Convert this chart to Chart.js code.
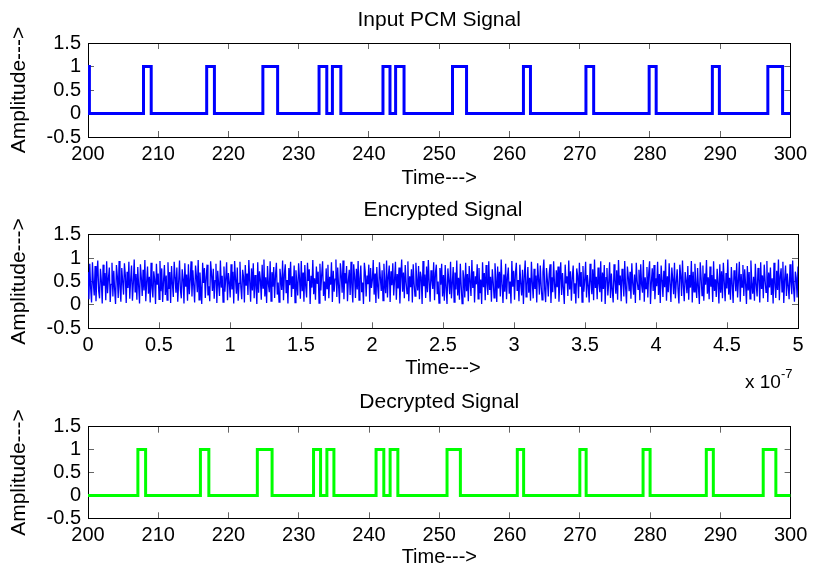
<!DOCTYPE html>
<html>
<head>
<meta charset="utf-8">
<script src="https://cdn.jsdelivr.net/npm/chart.js@4.4.0/dist/chart.umd.min.js"></script>
<style>
  body { margin: 0; background: #fff; }
  #wrap { position: relative; width: 818px; height: 570px; overflow: hidden; }
  canvas { position: absolute; left: 0; }
  #exp { position: absolute; left: 745px; top: 369px; font: 19px "Liberation Sans", Arial, sans-serif; color: #000; white-space: nowrap; }
  #exp sup { font-size: 13px; position: relative; top: -3px; }
</style>
</head>
<body>
<div id="wrap">
  <canvas id="input-chart" width="818" height="190" style="top:0px"></canvas>
  <canvas id="encrypted-chart" width="818" height="192" style="top:190px"></canvas>
  <canvas id="decrypted-chart" width="818" height="188" style="top:382px"></canvas>
  <div id="exp">x 10<sup>-7</sup></div>
</div>
<script>
// tick labels
const pcmTicks = [200, 210, 220, 230, 240, 250, 260, 270, 280, 290, 300];
const encTicks = [0, 0.5, 1, 1.5, 2, 2.5, 3, 3.5, 4, 4.5, 5];
const ampTicks = [-0.5, 0, 0.5, 1, 1.5];

// input PCM pulses (rise / fall times)
const inputRise = [200, 207.9, 216.9, 224.9, 232.9, 234.8, 242.0, 243.8, 251.9, 262.0, 270.9, 279.9, 288.9, 296.8];
const inputFall = [200.2, 209.0, 218.0, 227.0, 234.0, 236.0, 243.0, 245.0, 253.9, 263.0, 272.0, 280.9, 289.9, 298.9];

// decrypted pulses
const outRise = [207.1, 216.0, 224.1, 232.1, 234.0, 241.0, 243.0, 251.1, 261.1, 270.0, 279.0, 288.0, 296.1];
const outFall = [208.2, 217.2, 226.2, 233.1, 235.0, 242.1, 244.1, 253.0, 262.0, 270.9, 280.0, 289.0, 297.9];

// encrypted signal samples over 0 .. 5 x 10^-7 s
const encryptedValues = [
  .70,.12,.88,.35,.05,.91,.47,.20,.83,.08,.62,.95,.30,.14,.77,.52,.03,.86,.41,.68,
  .10,.93,.25,.57,.80,.06,.44,.90,.18,.73,.33,.02,.85,.61,.15,.94,.38,.07,.79,.50,
  .22,.89,.64,.04,.71,.36,.92,.13,.55,.84,.09,.46,.97,.28,.66,.11,.81,.40,.03,.87,
  .58,.19,.75,.31,.96,.08,.49,.82,.24,.60,.05,.90,.37,.16,.72,.54,.02,.88,.43,.67,
  .12,.94,.29,.78,.06,.51,.85,.21,.63,.10,.91,.34,.70,.04,.83,.45,.17,.92,.59,.26,
  .80,.07,.48,.95,.32,.14,.76,.56,.03,.89,.39,.65,.09,.87,.23,.53,.93,.18,.74,.42,
  .05,.84,.61,.27,.96,.11,.69,.35,.02,.90,.47,.79,.15,.58,.86,.20,.40,.08,.93,.66,
  .30,.77,.13,.52,.88,.04,.73,.44,.19,.95,.37,.62,.06,.82,.28,.57,.91,.10,.68,.49,
  .16,.87,.33,.71,.03,.94,.55,.24,.80,.09,.46,.92,.38,.12,.75,.60,.05,.85,.41,.67,
  .21,.96,.50,.07,.78,.31,.89,.14,.64,.43,.02,.91,.26,.72,.54,.11,.86,.36,.97,.18,
  .59,.04,.83,.45,.27,.93,.08,.70,.39,.81,.15,.63,.90,.22,.48,.06,.77,.56,.32,.95,
  .10,.66,.87,.25,.53,.03,.79,.42,.92,.17,.61,.34,.84,.05,.74,.47,.20,.89,.58,.13,
  .94,.29,.69,.07,.85,.40,.16,.90,.51,.76,.02,.62,.37,.96,.23,.57,.11,.82,.45,.71,
  .04,.88,.31,.65,.93,.19,.50,.09,.78,.35,.86,.14,.60,.43,.91,.06,.73,.28,.55,.97,
  .17,.80,.41,.03,.89,.64,.26,.95,.12,.68,.46,.83,.08,.52,.75,.21,.92,.38,.05,.87,
  .60,.15,.77,.33,.94,.10,.56,.84,.27,.48,.02,.90,.70,.18,.63,.44,.86,.07,.79,.36,
  .53,.96,.22,.67,.04,.81,.39,.13,.91,.58,.30,.74,.09,.88,.47,.25,.95,.16,.62,.84,
  .06,.72,.42,.89,.20,.54,.92,.11,.66,.35,.80,.03,.57,.97,.28,.69,.14,.85,.49,.24,
  .93,.08,.61,.38,.76,.05,.87,.45,.19,.90,.52,.31,.83,.12,.71,.59,.02,.94,.40,.65,
  .15,.82,.27,.96,.48,.07,.74,.55,.34,.91,.10,.68,.86,.23,.50,.04,.79,.43,.88,.18,
  .64,.09,.85,.37,.02,.78,.52,.23,.92,.14,.47,.81,.06,.69,.33,.95,.20,.58,.11,.88,
  .41,.03,.74,.57,.16,.90,.29,.66,.08,.83,.50,.19,.96,.36,.72,.05,.61,.44,.87,.13,
  .79,.25,.54,.02,.91,.38,.68,.10,.85,.46,.21,.93,.32,.60,.07,.76,.49,.15,.89,.55,
  .06,.82,.35,.71,.18,.97,.43,.04,.65,.28,.88,.12,.59,.80,.24,.50,.03,.94,.39,.73,
  .11,.67,.90,.30,.53,.08,.86,.45,.20,.75,.02,.62,.95,.17,.42,.81,.26,.58,.09,.92,
  .48,.14,.77,.34,.63,.05,.89,.56,.22,.84,.40,.11,.70,.97,.31,.06,.79,.52,.18,.66,
  .87,.04,.59,.27,.93,.44,.13,.74,.38,.82,.07,.55,.91,.21,.68,.35,.02,.86,.47,.61,
  .19,.95,.33,.72,.09,.57,.84,.25,.46,.03,.78,.62,.14,.90,.39,.70,.06,.83,.28,.54,
  .92,.16,.64,.41,.05,.88,.51,.23,.76,.10,.97,.36,.60,.12,.80,.45,.27,.93,.07,.69,
  .34,.85,.02,.58,.79,.20,.48,.91,.15,.67,.31,.05,.87,.53,.24,.74,.11,.96,.42,.63,
  .08,.77,.56,.18,.94,.37,.03,.82,.60,.29,.71,.13,.89,.46,.22,.65,.04,.90,.51,.33,
  .75,.10,.87,.43,.26,.96,.07,.59,.35,.81,.16,.68,.93,.02,.49,.78,.30,.85,.12,.57,
  .40,.92,.21,.66,.04,.84,.53,.17,.73,.38,.97,.09,.61,.27,.89,.44,.06,.80,.55,.23,
  .90,.14,.48,.76,.32,.03,.86,.62,.19,.95,.41,.08,.70,.52,.25,.83,.11,.64,.37,.94,
  .05,.71,.28,.88,.45,.15,.79,.36,.02,.91,.57,.20,.84,.09,.67,.43,.96,.24,.59,.12,
  .82,.39,.64,.06,.93,.30,.55,.17,.77,.47,.03,.87,.26,.72,.14,.90,.50,.08,.68,.35,
  .97,.22,.58,.11,.81,.44,.04,.74,.62,.29,.89,.16,.53,.92,.07,.66,.38,.85,.19,.76,
  .45,.02,.83,.31,.70,.13,.95,.48,.24,.60,.09,.88,.42,.18,.79,.56,.05,.91,.34,.63,
  .14,.86,.52,.27,.94,.06,.69,.37,.80,.21,.57,.03,.90,.46,.15,.73,.32,.97,.10,.61,
  .78,.28,.92,.04,.55,.84,.19,.67,.40,.12,.87,.49,.23,.95,.36,.07,.71,.58,.16,.82
];

const FONT = '"Liberation Sans", Arial, Helvetica, sans-serif';
Chart.defaults.font.family = FONT;
Chart.defaults.font.size = 20;
Chart.defaults.color = '#000';

function squareWave(rise, fall, x0, x1) {
  const pts = [{x: x0, y: 0}];
  rise.forEach((r, i) => {
    pts.push({x: r, y: 0}, {x: r, y: 1}, {x: fall[i], y: 1}, {x: fall[i], y: 0});
  });
  pts.push({x: x1, y: 0});
  return pts;
}

function encryptedPoints() {
  const n = encryptedValues.length;
  return encryptedValues.map((v, i) => ({x: i * 5 / (n - 1), y: v}));
}

function tickAxis(position, min, max, list, extra) {
  return Object.assign({
    type: 'linear',
    position: position,
    min: min,
    max: max,
    afterBuildTicks: s => { s.ticks = list.map(v => ({value: v})); },
    border: { display: true, color: '#000', width: 1 },
    grid: { drawOnChartArea: false, drawTicks: true, tickLength: -6, color: '#666', lineWidth: 1 },
    ticks: { display: false }
  }, extra);
}

function makePanel(id, p) {
  const xTicks = p.xTicks;
  return new Chart(document.getElementById(id), {
    type: 'line',
    data: {
      datasets: [{
        data: p.points,
        borderColor: p.color,
        borderWidth: p.width,
        pointRadius: 0,
        tension: 0,
        fill: false
      }]
    },
    options: {
      responsive: false,
      animation: false,
      devicePixelRatio: 1,
      layout: { padding: { left: 0, right: 20, top: 0, bottom: 0 } },
      plugins: {
        legend: { display: false },
        tooltip: { enabled: false },
        title: {
          display: true,
          fullSize: false,
          text: p.title,
          color: '#000',
          font: { size: 21, weight: 'normal' },
          padding: { top: 7.4, bottom: p.titleGap }
        }
      },
      scales: {
        x: tickAxis('bottom', xTicks[0], xTicks[xTicks.length - 1], xTicks, {
          afterFit: s => { s.height = p.axisH; },
          ticks: { display: true, padding: p.tickPad, maxRotation: 0, minRotation: 0, autoSkip: false,
                   callback: v => String(v) },
          title: { display: true, text: 'Time--->', font: { size: 20 }, padding: { top: 0, bottom: p.xTitlePad } }
        }),
        x2: tickAxis('top', xTicks[0], xTicks[xTicks.length - 1], xTicks, {
          afterFit: s => { s.height = 0; }
        }),
        y: tickAxis('left', -0.5, 1.5, ampTicks, {
          afterFit: s => { s.width = 88; },
          ticks: { display: true, padding: 13, autoSkip: false, callback: v => String(v) },
          title: { display: true, text: 'Amplitude--->', font: { size: 21 }, padding: { top: 6.9, bottom: 0 } }
        }),
        y2: tickAxis('right', -0.5, 1.5, ampTicks, {
          afterFit: s => { s.width = 0; }
        })
      }
    }
  });
}

makePanel('input-chart', {
  title: 'Input PCM Signal',
  points: squareWave(inputRise, inputFall, 200, 300),
  color: '#0000ff', width: 3, xTicks: pcmTicks,
  titleGap: 10.4, axisH: 53, tickPad: 11, xTitlePad: 0
});

makePanel('encrypted-chart', {
  title: 'Encrypted Signal',
  points: encryptedPoints(),
  color: '#0000ff', width: 1.3, xTicks: encTicks,
  titleGap: 12.1, axisH: 53.7, tickPad: 11.4, xTitlePad: 2
});

makePanel('decrypted-chart', {
  title: 'Decrypted Signal',
  points: squareWave(outRise, outFall, 200, 300),
  color: '#00ff00', width: 3, xTicks: pcmTicks,
  titleGap: 12.1, axisH: 51.7, tickPad: 10.7, xTitlePad: 1
});
</script>
</body>
</html>
